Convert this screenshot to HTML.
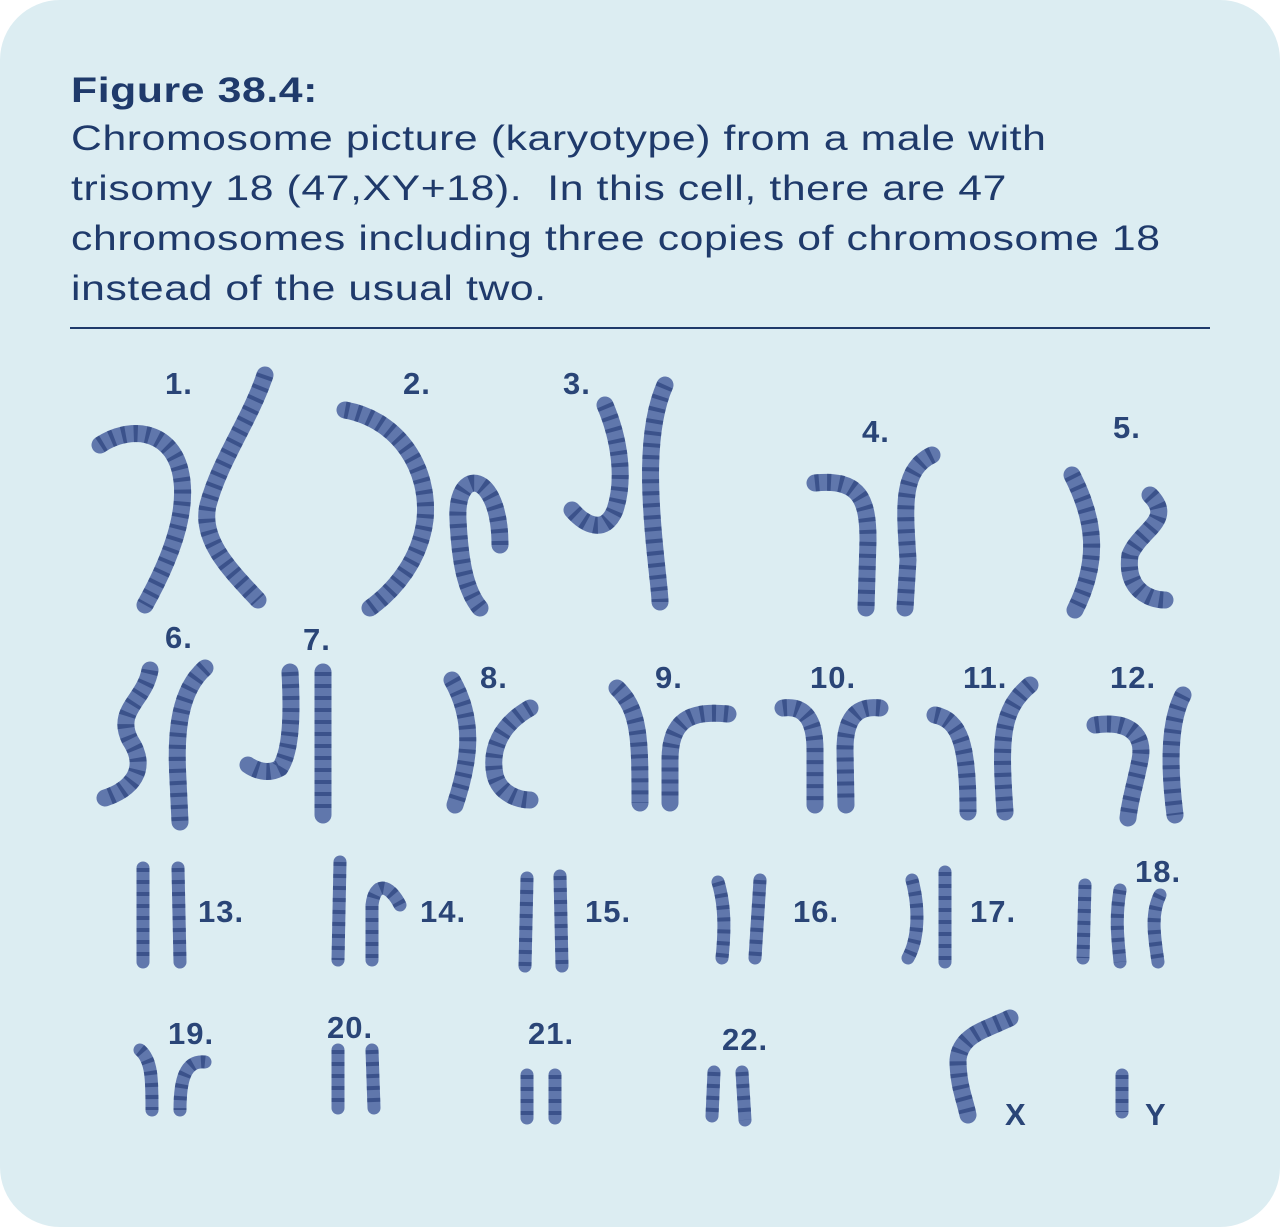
<!DOCTYPE html>
<html><head><meta charset="utf-8">
<style>
html,body{margin:0;padding:0;background:#fff;}
#panel{position:absolute;left:0;top:0;width:1280px;height:1227px;background:#dcedf2;border-radius:60px;overflow:hidden;}
.cap{position:absolute;left:71px;font-family:"Liberation Sans",sans-serif;color:#1f3a6b;font-size:35px;line-height:50px;letter-spacing:0.5px;transform:scaleX(1.22);transform-origin:0 0;white-space:nowrap;}
svg{position:absolute;left:0;top:0;}
.lbl{font-family:"Liberation Sans",sans-serif;font-weight:bold;font-size:31px;fill:#2a4577;letter-spacing:1px;}
.c{fill:none;stroke:#4a62a0;stroke-width:17;stroke-linecap:round;stroke-linejoin:round;opacity:.85}
.b{fill:none;stroke:#233a74;stroke-width:17;stroke-dasharray:4 8;opacity:.6}
.cs{stroke-width:13}
</style></head>
<body>
<div id="panel">
<div class="cap" style="top:66px;font-weight:bold;">Figure 38.4:</div>
<div class="cap" style="top:114px;">Chromosome picture (karyotype) from a male with<br>trisomy 18 (47,XY+18).&nbsp; In this cell, there are 47<br>chromosomes including three copies of chromosome 18<br>instead of the usual two.</div>
<svg width="1280" height="1227">
<line x1="70" y1="328" x2="1210" y2="328" stroke="#1f3a6b" stroke-width="2"/>
<g>
<path class="c" d="M100,445 C130,425 170,430 180,470 C190,510 170,560 145,605"/>
<path class="b" d="M100,445 C130,425 170,430 180,470 C190,510 170,560 145,605"/>
<path class="c" d="M265,375 C250,420 220,460 208,505 C200,540 230,570 258,600"/>
<path class="b" d="M265,375 C250,420 220,460 208,505 C200,540 230,570 258,600"/>
<path class="c" d="M345,410 C400,420 430,470 425,520 C420,560 395,590 370,608"/>
<path class="b" d="M345,410 C400,420 430,470 425,520 C420,560 395,590 370,608"/>
<path class="c" d="M500,545 C500,470 455,465 458,520 C460,560 465,590 480,608"/>
<path class="b" d="M500,545 C500,470 455,465 458,520 C460,560 465,590 480,608"/>
<path class="c" d="M605,405 C620,440 625,480 615,510 C605,535 585,525 572,510"/>
<path class="b" d="M605,405 C620,440 625,480 615,510 C605,535 585,525 572,510"/>
<path class="c" d="M665,385 C645,430 650,500 655,550 C658,580 660,595 660,602"/>
<path class="b" d="M665,385 C645,430 650,500 655,550 C658,580 660,595 660,602"/>
<path class="c" d="M815,483 C860,478 868,500 868,540 L866,608"/>
<path class="b" d="M815,483 C860,478 868,500 868,540 L866,608"/>
<path class="c" d="M932,455 C900,470 905,510 908,560 L905,608"/>
<path class="b" d="M932,455 C900,470 905,510 908,560 L905,608"/>
<path class="c" d="M1072,475 C1095,520 1100,560 1075,610"/>
<path class="b" d="M1072,475 C1095,520 1100,560 1075,610"/>
<path class="c" d="M1150,495 C1175,520 1140,530 1130,555 C1125,590 1150,600 1165,600"/>
<path class="b" d="M1150,495 C1175,520 1140,530 1130,555 C1125,590 1150,600 1165,600"/>
<path class="c" d="M150,670 C145,700 115,710 130,740 C150,770 130,790 105,798"/>
<path class="b" d="M150,670 C145,700 115,710 130,740 C150,770 130,790 105,798"/>
<path class="c" d="M205,668 C180,690 175,730 178,780 L180,822"/>
<path class="b" d="M205,668 C180,690 175,730 178,780 L180,822"/>
<path class="c" d="M290,672 C292,710 292,750 280,768 C268,775 255,770 248,765"/>
<path class="b" d="M290,672 C292,710 292,750 280,768 C268,775 255,770 248,765"/>
<path class="c" d="M323,672 L323,815"/>
<path class="b" d="M323,672 L323,815"/>
<path class="c" d="M452,680 C475,720 470,760 455,805"/>
<path class="b" d="M452,680 C475,720 470,760 455,805"/>
<path class="c" d="M530,708 C500,725 490,750 495,775 C500,795 520,800 530,800"/>
<path class="b" d="M530,708 C500,725 490,750 495,775 C500,795 520,800 530,800"/>
<path class="c" d="M617,688 C640,710 640,740 640,803"/>
<path class="b" d="M617,688 C640,710 640,740 640,803"/>
<path class="c" d="M728,714 C690,710 670,720 670,760 L670,803"/>
<path class="b" d="M728,714 C690,710 670,720 670,760 L670,803"/>
<path class="c" d="M783,708 C805,705 815,720 815,750 L815,805"/>
<path class="b" d="M783,708 C805,705 815,720 815,750 L815,805"/>
<path class="c" d="M880,708 C855,705 845,720 845,750 L846,805"/>
<path class="b" d="M880,708 C855,705 845,720 845,750 L846,805"/>
<path class="c" d="M935,715 C960,720 968,745 968,812"/>
<path class="b" d="M935,715 C960,720 968,745 968,812"/>
<path class="c" d="M1030,685 C1000,710 1000,740 1005,812"/>
<path class="b" d="M1030,685 C1000,710 1000,740 1005,812"/>
<path class="c" d="M1095,725 C1130,720 1145,735 1140,760 C1135,785 1130,800 1128,818"/>
<path class="b" d="M1095,725 C1130,720 1145,735 1140,760 C1135,785 1130,800 1128,818"/>
<path class="c" d="M1183,695 C1170,720 1168,760 1175,815"/>
<path class="b" d="M1183,695 C1170,720 1168,760 1175,815"/>
<path class="c cs" d="M143,868 L143,962"/><path class="b cs" d="M143,868 L143,962"/>
<path class="c cs" d="M178,868 L180,962"/><path class="b cs" d="M178,868 L180,962"/>
<path class="c cs" d="M340,862 L338,960"/><path class="b cs" d="M340,862 L338,960"/>
<path class="c cs" d="M400,905 C390,885 375,880 372,905 L372,960"/><path class="b cs" d="M400,905 C390,885 375,880 372,905 L372,960"/>
<path class="c cs" d="M527,878 L525,966"/><path class="b cs" d="M527,878 L525,966"/>
<path class="c cs" d="M560,876 L562,966"/><path class="b cs" d="M560,876 L562,966"/>
<path class="c cs" d="M718,882 C725,905 725,930 722,958"/><path class="b cs" d="M718,882 C725,905 725,930 722,958"/>
<path class="c cs" d="M760,880 L755,958"/><path class="b cs" d="M760,880 L755,958"/>
<path class="c cs" d="M912,880 C920,910 918,940 908,958"/><path class="b cs" d="M912,880 C920,910 918,940 908,958"/>
<path class="c cs" d="M945,872 L945,962"/><path class="b cs" d="M945,872 L945,962"/>
<path class="c cs" d="M1085,885 L1083,958"/><path class="b cs" d="M1085,885 L1083,958"/>
<path class="c cs" d="M1120,890 C1115,920 1118,940 1120,962"/><path class="b cs" d="M1120,890 C1115,920 1118,940 1120,962"/>
<path class="c cs" d="M1160,895 C1150,915 1155,940 1158,962"/><path class="b cs" d="M1160,895 C1150,915 1155,940 1158,962"/>
<path class="c cs" d="M140,1050 C152,1060 152,1080 152,1110"/><path class="b cs" d="M140,1050 C152,1060 152,1080 152,1110"/>
<path class="c cs" d="M205,1062 C185,1060 180,1080 180,1110"/><path class="b cs" d="M205,1062 C185,1060 180,1080 180,1110"/>
<path class="c cs" d="M338,1050 L338,1108"/><path class="b cs" d="M338,1050 L338,1108"/>
<path class="c cs" d="M372,1050 L374,1108"/><path class="b cs" d="M372,1050 L374,1108"/>
<path class="c cs" d="M527,1075 L527,1118"/><path class="b cs" d="M527,1075 L527,1118"/>
<path class="c cs" d="M555,1075 L555,1118"/><path class="b cs" d="M555,1075 L555,1118"/>
<path class="c cs" d="M714,1072 L712,1116"/><path class="b cs" d="M714,1072 L712,1116"/>
<path class="c cs" d="M742,1072 L745,1120"/><path class="b cs" d="M742,1072 L745,1120"/>
<path class="c" d="M1010,1018 C985,1030 960,1035 958,1060 C958,1085 965,1100 968,1115"/><path class="b" d="M1010,1018 C985,1030 960,1035 958,1060 C958,1085 965,1100 968,1115"/>
<path class="c cs" d="M1122,1075 L1122,1112"/><path class="b cs" d="M1122,1075 L1122,1112"/>
</g>
<g>
<text class="lbl" x="165" y="394">1.</text>
<text class="lbl" x="403" y="394">2.</text>
<text class="lbl" x="563" y="394">3.</text>
<text class="lbl" x="862" y="442">4.</text>
<text class="lbl" x="1113" y="438">5.</text>
<text class="lbl" x="165" y="648">6.</text>
<text class="lbl" x="303" y="650">7.</text>
<text class="lbl" x="480" y="688">8.</text>
<text class="lbl" x="655" y="688">9.</text>
<text class="lbl" x="810" y="688">10.</text>
<text class="lbl" x="963" y="688">11.</text>
<text class="lbl" x="1110" y="688">12.</text>
<text class="lbl" x="198" y="922">13.</text>
<text class="lbl" x="420" y="922">14.</text>
<text class="lbl" x="585" y="922">15.</text>
<text class="lbl" x="793" y="922">16.</text>
<text class="lbl" x="970" y="922">17.</text>
<text class="lbl" x="1135" y="882">18.</text>
<text class="lbl" x="168" y="1044">19.</text>
<text class="lbl" x="327" y="1038">20.</text>
<text class="lbl" x="528" y="1044">21.</text>
<text class="lbl" x="722" y="1050">22.</text>
<text class="lbl" x="1005" y="1125">X</text>
<text class="lbl" x="1145" y="1125">Y</text>
</g>
</svg>
</div>
</body></html>
